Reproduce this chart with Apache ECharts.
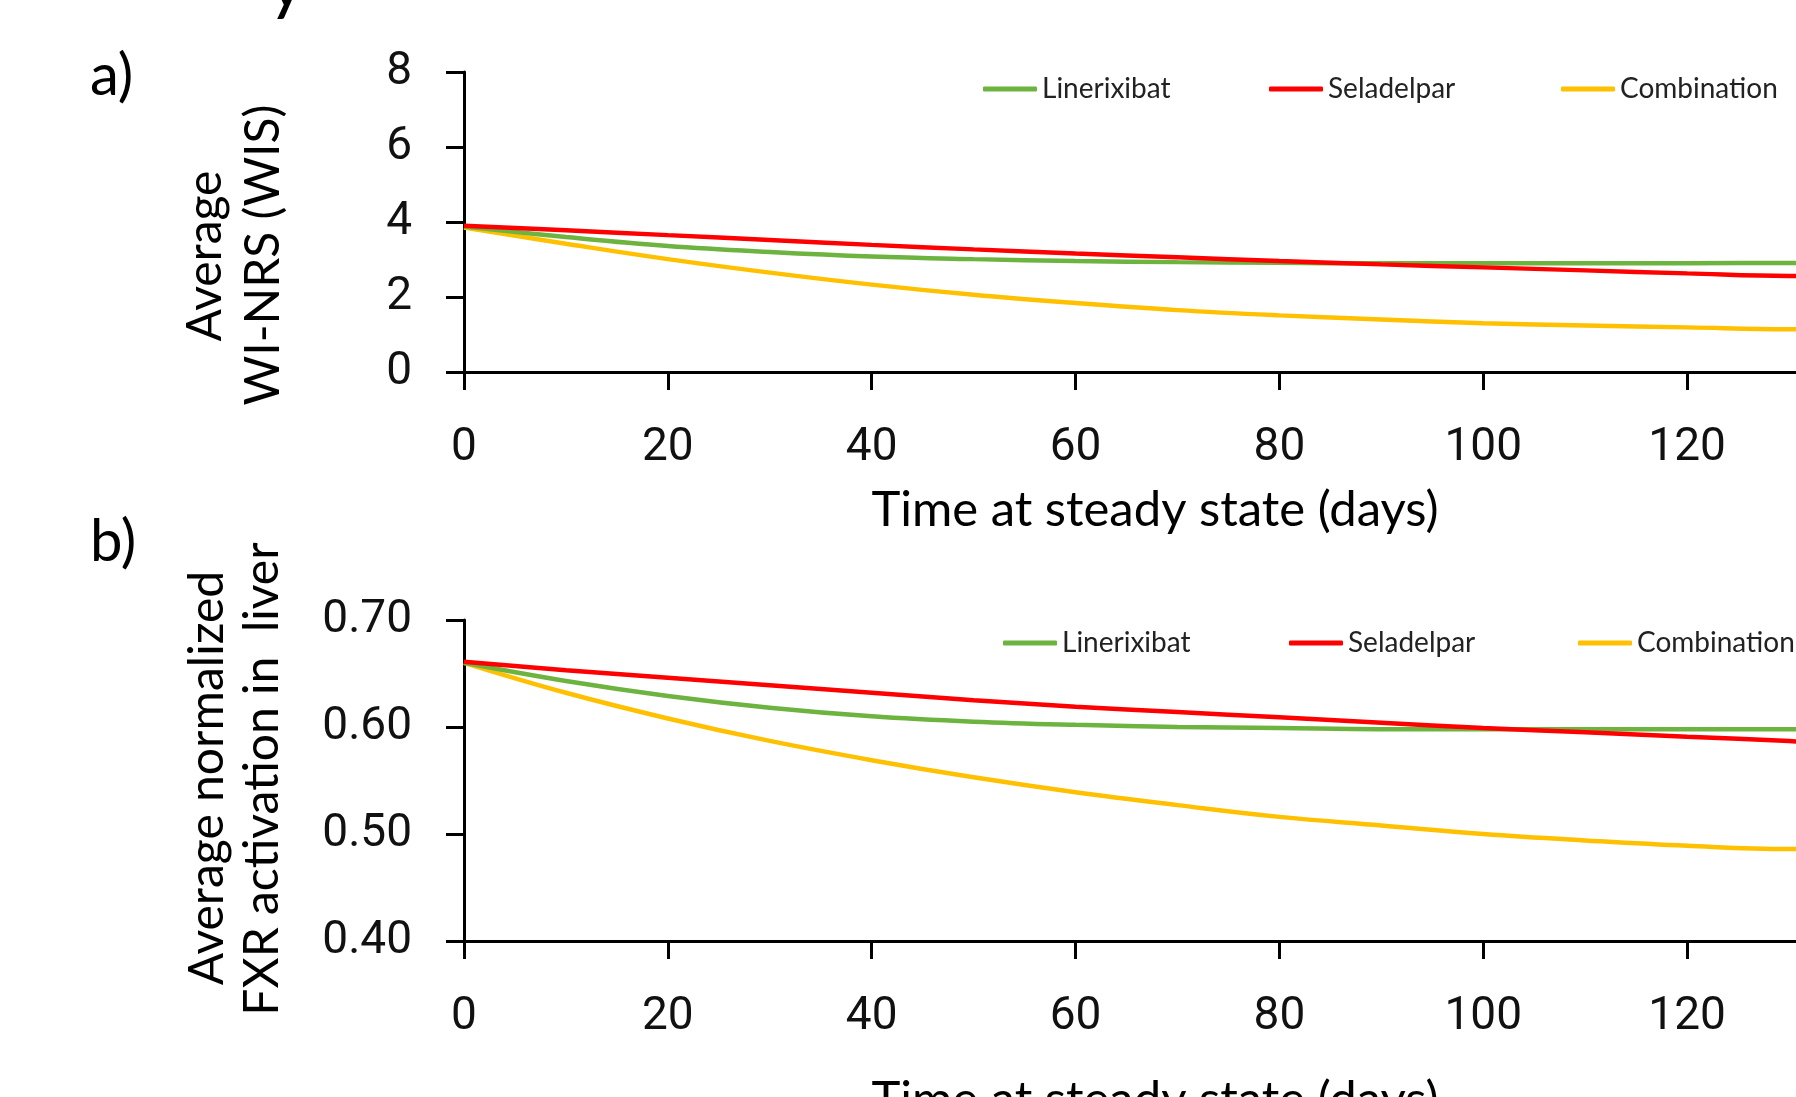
<!DOCTYPE html>
<html>
<head>
<meta charset="utf-8">
<script src="https://cdn.jsdelivr.net/npm/echarts@6/dist/echarts.min.js"></script>
<style>
  html, body { margin: 0; padding: 0; background: #fff; }
  #chart { width: 1796px; height: 1097px; }
</style>
</head>
<body>
<div id="chart"></div>
<script>
// days at steady state
var days = [0, 10, 20, 30, 40, 50, 60, 70, 80, 90, 100, 110, 120, 130, 131];

// a) average WI-NRS (WIS)
var wisLinerixibat = [3.88, 3.60, 3.36, 3.20, 3.08, 3.01, 2.96, 2.93, 2.91, 2.90, 2.90, 2.90, 2.90, 2.91, 2.91];
var wisSeladelpar  = [3.90, 3.78, 3.65, 3.52, 3.39, 3.27, 3.16, 3.06, 2.96, 2.87, 2.79, 2.71, 2.63, 2.56, 2.56];
var wisCombination = [3.85, 3.42, 3.01, 2.65, 2.33, 2.06, 1.84, 1.65, 1.51, 1.40, 1.30, 1.24, 1.19, 1.14, 1.14];

// b) average normalized FXR activation in liver
var fxrLinerixibat = [0.660, 0.643, 0.629, 0.618, 0.610, 0.605, 0.602, 0.600, 0.599, 0.598, 0.598, 0.598, 0.598, 0.598, 0.598];
var fxrSeladelpar  = [0.661, 0.653, 0.646, 0.639, 0.632, 0.625, 0.619, 0.614, 0.609, 0.604, 0.599, 0.595, 0.591, 0.587, 0.586];
var fxrCombination = [0.660, 0.632, 0.608, 0.587, 0.569, 0.553, 0.539, 0.527, 0.516, 0.508, 0.500, 0.494, 0.489, 0.486, 0.486];

var seriesNames = ['Linerixibat', 'Seladelpar', 'Combination'];
var colors = ['#6DB33F', '#FF0000', '#FFC000'];

var FONT = 'Lato, "Open Sans", sans-serif';
var NUMFONT = 'Roboto, sans-serif';

function pairs(ys) {
    return days.map(function(d, i) { return [d, ys[i]]; });
}

function xAxisFor(idx) {
    return {
        gridIndex: idx,
        type: 'value',
        min: 0,
        max: 140,
        interval: 20,
        axisLine: { show: true, lineStyle: { color: '#000', width: 3 } },
        axisTick: { show: true, length: 18, lineStyle: { color: '#000', width: 3 } },
        axisLabel: { fontSize: 46, margin: 53, color: '#111', fontFamily: NUMFONT },
        splitLine: { show: false }
    };
}

function yAxisFor(idx, min, max, step, digits) {
    return {
        gridIndex: idx,
        type: 'value',
        min: min,
        max: max,
        interval: step,
        axisLine: { show: true, lineStyle: { color: '#000', width: 3 } },
        axisTick: { show: true, length: 18, lineStyle: { color: '#000', width: 3 } },
        axisLabel: {
            fontSize: 46, margin: 52, color: '#111', fontFamily: NUMFONT,
            padding: [6, 0, 0, 0],
            formatter: function(v) { return v.toFixed(digits); }
        },
        splitLine: { show: false }
    };
}

function lineSeries(name, color, idx, ys) {
    return {
        name: name,
        type: 'line',
        xAxisIndex: idx,
        yAxisIndex: idx,
        data: pairs(ys),
        smooth: 0.4,
        symbol: 'none',
        lineStyle: { color: color, width: 4.5 },
        itemStyle: { color: color },
        z: name === 'Linerixibat' ? 3 : (name === 'Seladelpar' ? 4 : 2)
    };
}

// one legend per item so the items sit where the original has them
function legendItem(name, left, top) {
    return {
        data: [name],
        left: left,
        top: top,
        icon: 'roundRect',
        itemWidth: 54,
        itemHeight: 5,
        padding: 0,
        textStyle: { fontSize: 28, color: '#222', fontFamily: FONT }
    };
}

function vText(str, x, y) {
    return {
        type: 'text',
        x: x,
        y: y,
        rotation: Math.PI / 2,
        style: {
            text: str,
            fill: '#000',
            font: '48px ' + FONT,
            align: 'center',
            verticalAlign: 'middle',
            textAlign: 'center',
            textVerticalAlign: 'middle'
        }
    };
}

function hText(str, x, y, size, align) {
    return {
        type: 'text',
        x: x,
        y: y,
        style: {
            text: str,
            fill: '#000',
            font: size + 'px ' + FONT,
            align: align,
            verticalAlign: 'middle',
            textAlign: align,
            textVerticalAlign: 'middle'
        }
    };
}

var myChart = echarts.init(document.getElementById('chart'));

var option = {
    backgroundColor: '#fff',
    animation: false,
    grid: [
        { left: 464, top: 72, width: 1427, height: 300, outerBoundsMode: 'none' },
        { left: 464, top: 620, width: 1427, height: 321, outerBoundsMode: 'none' }
    ],
    xAxis: [xAxisFor(0), xAxisFor(1)],
    yAxis: [
        yAxisFor(0, 0, 8, 2, 0),
        yAxisFor(1, 0.4, 0.7, 0.1, 2)
    ],
    legend: [
        legendItem('Linerixibat', 983, 75),
        legendItem('Seladelpar', 1269, 75),
        legendItem('Combination', 1561, 75),
        legendItem('Linerixibat', 1003, 629),
        legendItem('Seladelpar', 1289, 629),
        legendItem('Combination', 1578, 629)
    ],
    series: [
        lineSeries(seriesNames[2], colors[2], 0, wisCombination),
        lineSeries(seriesNames[0], colors[0], 0, wisLinerixibat),
        lineSeries(seriesNames[1], colors[1], 0, wisSeladelpar),
        lineSeries(seriesNames[2], colors[2], 1, fxrCombination),
        lineSeries(seriesNames[0], colors[0], 1, fxrLinerixibat),
        lineSeries(seriesNames[1], colors[1], 1, fxrSeladelpar)
    ],
    graphic: [
        hText('a)', 90, 76, 58, 'left'),
        hText('b)', 90, 542, 58, 'left'),
        hText('y', 268, -16, 72, 'left'),
        vText('Average', 206, 256),
        vText('WI-NRS (WIS)', 264, 255),
        vText('Average normalized', 208, 778),
        vText('FXR activation in  liver', 263, 779),
        hText('Time at steady state (days)', 1155, 510, 49, 'center'),
        hText('Time at steady state (days)', 1155, 1100, 49, 'center')
    ]
};

myChart.setOption(option);
</script>
</body>
</html>
